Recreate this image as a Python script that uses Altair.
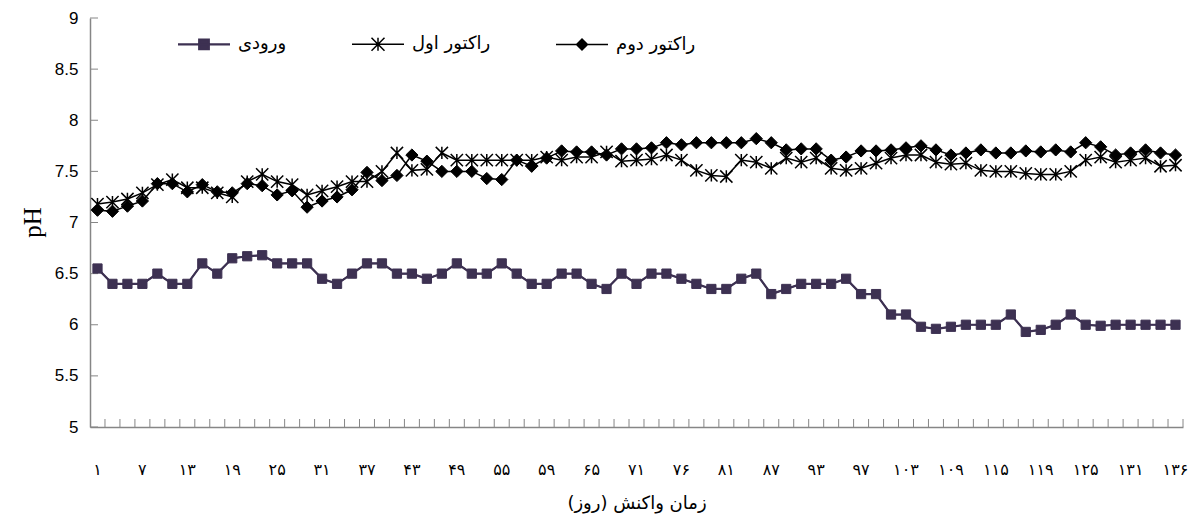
import altair as alt
import pandas as pd

# Sampling days (reaction time, days)
days = [1, 3, 5, 7, 9, 11, 13, 15, 17, 19, 21, 23, 25, 27, 29, 31, 33, 35, 37, 39,
        41, 43, 45, 47, 49, 51, 53, 55, 56, 58, 59, 61, 63, 65, 67, 69, 71, 72, 74, 76,
        78, 79, 81, 83, 85, 87, 89, 91, 93, 94, 96, 97, 99, 101, 103, 105, 107, 109, 111, 113,
        115, 116, 118, 119, 121, 123, 125, 127, 129, 131, 133, 134, 136]

# pH of the influent
ph_inlet = [6.55, 6.40, 6.40, 6.40, 6.50, 6.40, 6.40, 6.60, 6.50, 6.65,
            6.67, 6.68, 6.60, 6.60, 6.60, 6.45, 6.40, 6.50, 6.60, 6.60,
            6.50, 6.50, 6.45, 6.50, 6.60, 6.50, 6.50, 6.60, 6.50, 6.40,
            6.40, 6.50, 6.50, 6.40, 6.35, 6.50, 6.40, 6.50, 6.50, 6.45,
            6.40, 6.35, 6.35, 6.45, 6.50, 6.30, 6.35, 6.40, 6.40, 6.40,
            6.45, 6.30, 6.30, 6.10, 6.10, 5.98, 5.96, 5.98, 6.00, 6.00,
            6.00, 6.10, 5.93, 5.95, 6.00, 6.10, 6.00, 5.99, 6.00, 6.00,
            6.00, 6.00, 6.00]

# pH of the first reactor
ph_reactor1 = [7.18, 7.20, 7.23, 7.29, 7.37, 7.42, 7.34, 7.34, 7.29, 7.25,
               7.40, 7.47, 7.40, 7.37, 7.27, 7.31, 7.35, 7.40, 7.40, 7.50,
               7.68, 7.51, 7.52, 7.68, 7.61, 7.61, 7.61, 7.61, 7.61, 7.61,
               7.64, 7.61, 7.64, 7.64, 7.69, 7.60, 7.61, 7.62, 7.66, 7.61,
               7.51, 7.46, 7.45, 7.61, 7.59, 7.53, 7.63, 7.59, 7.63, 7.53,
               7.51, 7.53, 7.58, 7.63, 7.66, 7.66, 7.59, 7.57, 7.58, 7.51,
               7.50, 7.50, 7.48, 7.47, 7.47, 7.50, 7.61, 7.64, 7.59, 7.61,
               7.63, 7.55, 7.56]

# pH of the second reactor
ph_reactor2 = [7.12, 7.11, 7.16, 7.21, 7.38, 7.38, 7.30, 7.37, 7.30, 7.29,
               7.38, 7.36, 7.27, 7.31, 7.15, 7.21, 7.25, 7.32, 7.49, 7.41,
               7.46, 7.66, 7.60, 7.50, 7.50, 7.50, 7.43, 7.42, 7.61, 7.55,
               7.63, 7.70, 7.69, 7.69, 7.66, 7.72, 7.72, 7.73, 7.78, 7.76,
               7.78, 7.78, 7.78, 7.78, 7.82, 7.78, 7.71, 7.72, 7.72, 7.61,
               7.64, 7.70, 7.70, 7.71, 7.73, 7.75, 7.71, 7.66, 7.68, 7.71,
               7.68, 7.68, 7.70, 7.69, 7.71, 7.69, 7.78, 7.74, 7.66, 7.68,
               7.71, 7.68, 7.66]

series_names = ["ورودی", "راکتور اول", "راکتور دوم"]
series_values = [ph_inlet, ph_reactor1, ph_reactor2]
y_ticks = [5, 5.5, 6, 6.5, 7, 7.5, 8, 8.5, 9]

PERSIAN = str.maketrans("0123456789", "۰۱۲۳۴۵۶۷۸۹")
day_labels = [str(d).translate(PERSIAN) for d in days]
shown_labels = day_labels[::3]

rows = []
for name, vals in zip(series_names, series_values):
    for lab, v in zip(day_labels, vals):
        rows.append({"series": name, "day": lab, "ph": v})
df = pd.DataFrame(rows)
days_df = pd.DataFrame({"day": day_labels})
yt_df = pd.DataFrame({"v": y_ticks})

W, H = 1093, 409
PURPLE = "#3D3152"
GREY = "#868686"

asterisk = "M-1,-1L1,1M-1,1L1,-1M0,-1L0,1"
colors = [PURPLE, "black", "black"]
# marker style of each series: shape, size, outline width
marker_styles = [("square", 85, 1.0), (asterisk, 150, 1.5), ("diamond", 150, 1.0)]

x_scale = alt.Scale(type="band", domain=day_labels, paddingInner=0, paddingOuter=0)
y_scale = alt.Scale(domain=[5, 9], nice=False, zero=False)

x_axis = alt.Axis(values=shown_labels, labelAngle=0, tickSize=0, domainColor=GREY,
                  domainWidth=1.5, labelFont="DejaVu Sans", labelFontSize=16,
                  labelColor="black", labelPadding=34, title="زمان واکنش (روز)",
                  titleFont="DejaVu Sans", titleFontSize=18, titleFontWeight="normal",
                  titleColor="black", titleY=76, titleBaseline="middle", grid=False)
y_axis = alt.Axis(values=y_ticks, format="~g", tickSize=0, domainColor=GREY, domainWidth=1.5,
                  labelFont="Liberation Sans", labelFontSize=17, labelColor="black",
                  labelPadding=12, title="pH", titleFont="Liberation Serif",
                  titleFontSize=25, titleFontWeight="normal", titleColor="black",
                  titleAngle=-90, titleX=-58, titleY=204, titleBaseline="middle",
                  titleAlign="center", grid=False)


def pick(a, b, c):
    return (f"datum.value === '{series_names[0]}' ? {a} : "
            f"datum.value === '{series_names[1]}' ? {b} : {c}")


# legend keys: a short line with the series marker on it
LINE = "M-2,0L2,0"
legend_shapes = pick(f"'{LINE}M-0.37,-0.37L0.37,-0.37L0.37,0.37L-0.37,0.37Z'",
                     f"'{LINE}M-0.5,-0.5L0.5,0.5M-0.5,0.5L0.5,-0.5M0,-0.5L0,0.5'",
                     f"'{LINE}M-0.42,0L0,-0.42L0.42,0L0,0.42Z'")
legend_color = pick(f"'{PURPLE}'", "'black'", "'black'")
legend_width = pick("2.2", "1.5", "1.5")

legend = alt.Legend(
    title=None, orient="none", legendX=105, legendY=17, direction="horizontal",
    labelFont="DejaVu Sans", labelFontSize=18, labelColor="black", symbolSize=676,
    labelOffset=25, columnPadding=62,
    symbolType={"expr": legend_shapes},
    symbolFillColor={"expr": legend_color},
    symbolStrokeColor={"expr": legend_color},
    symbolStrokeWidth={"expr": legend_width},
    symbolOpacity=1,
)

x_enc = alt.X("day:N", scale=x_scale, axis=x_axis, sort=day_labels)
y_enc = alt.Y("ph:Q", scale=y_scale, axis=y_axis)

# all three series as lines (this layer carries the legend)
lines = alt.Chart(df).mark_line(strokeWidth=1.5).encode(
    x=x_enc, y=y_enc,
    color=alt.Color("series:N", scale=alt.Scale(domain=series_names, range=colors),
                    legend=legend, sort=series_names),
)

# the influent line is drawn a little heavier
inlet_line = alt.Chart(df).transform_filter(
    alt.datum.series == series_names[0]
).mark_line(strokeWidth=2.2, color=PURPLE).encode(x=x_enc, y=y_enc)

# markers, one layer per series
marker_layers = []
for name, col, (shape, size, sw) in zip(series_names, colors, marker_styles):
    marker_layers.append(
        alt.Chart(df).transform_filter(alt.datum.series == name).mark_point(
            shape=shape, size=size, filled=True, fill=col, stroke=col,
            strokeWidth=sw, opacity=1,
        ).encode(x=x_enc, y=y_enc)
    )

# inward tick marks on both axes
x_ticks = alt.Chart(days_df).mark_rule(color=GREY, strokeWidth=1).encode(
    x=alt.X("day:N", scale=x_scale, sort=day_labels, bandPosition=1, axis=x_axis),
    y=alt.value(H - 8), y2=alt.value(H),
)
y_tick_marks = alt.Chart(yt_df).mark_rule(color=GREY, strokeWidth=1).encode(
    y=alt.Y("v:Q", scale=y_scale, axis=y_axis),
    x=alt.value(0), x2=alt.value(8),
)

chart = alt.layer(x_ticks, y_tick_marks, lines, inlet_line, *marker_layers).properties(
    width=W, height=H,
    padding={"left": 90, "top": 18, "right": 19, "bottom": 102},
    autosize=alt.AutoSizeParams(type="none"),
    background="white",
).configure_view(stroke=None)

chart.save("out.html", embed_options={"renderer": "svg", "actions": False})
